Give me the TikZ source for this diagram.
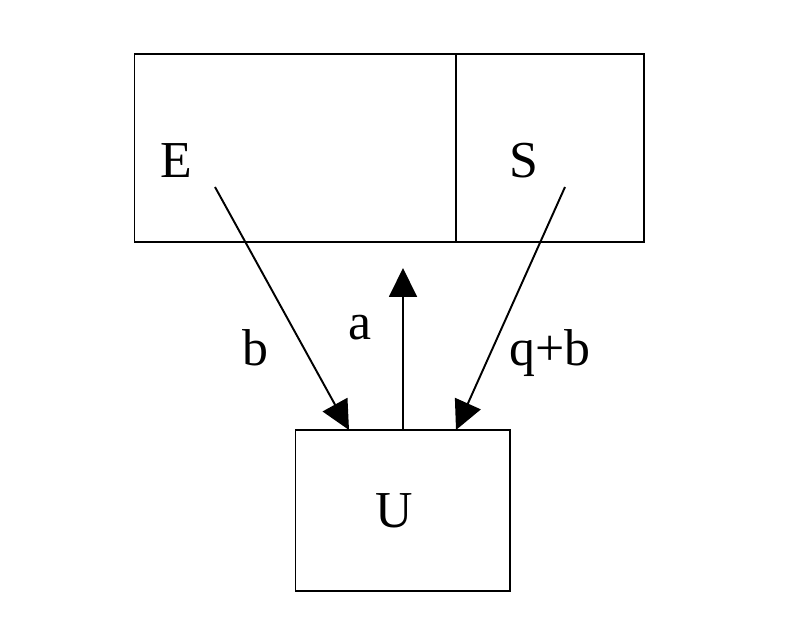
\documentclass[tikz,border=0pt]{standalone}
\usepackage{fontspec}
\setmainfont{Liberation Serif}
\usetikzlibrary{arrows.meta}

\tikzset{
	box/.style={draw, line width=1.1pt, anchor=north west, inner sep=0pt},
	lbl/.style={anchor=base, inner sep=0pt, font=\fontsize{29.5}{35}\selectfont},
	flow/.style={line width=1.1pt, -{Triangle[length=0.58cm, width=0.56cm]}}
}

\begin{document}
\begin{tikzpicture}[x=0.02cm, y=-0.02cm]
		\useasboundingbox (0,0) rectangle (805,621);
		% boxes
		\node[box, minimum width=6.44cm, minimum height=3.76cm] (ebox) at (133.5,53.5) {};
		\node[box, minimum width=3.76cm, minimum height=3.76cm] (sbox) at (455.5,53.5) {};
		\node[box, minimum width=4.3cm, minimum height=3.22cm] (ubox) at (294.5,429.5) {};
		
		\node[lbl] (E) at (176,178) {E};
		\node[lbl] (S) at (524,178) {S};
		\node[lbl] (U) at (394,527) {U};
		
		\coordinate (eout) at (215,187);
		\coordinate (sout) at (565,187);
		\coordinate (ein) at (349,430);
		\coordinate (sin) at (456,430);
		\coordinate (uout) at (403,430);
		\coordinate (uup) at (403,268);
		
		\draw[flow] (eout) -- (ein);
		\draw[flow] (sout) -- (sin);
		\draw[flow] (uout) -- (uup);
		
		\node[lbl] (b) at (255,366) {b};
		\node[lbl] (a) at (360,340) {a};
		\node[lbl] (qb) at (550,366) {q+b};
	\end{tikzpicture}
\end{document}
